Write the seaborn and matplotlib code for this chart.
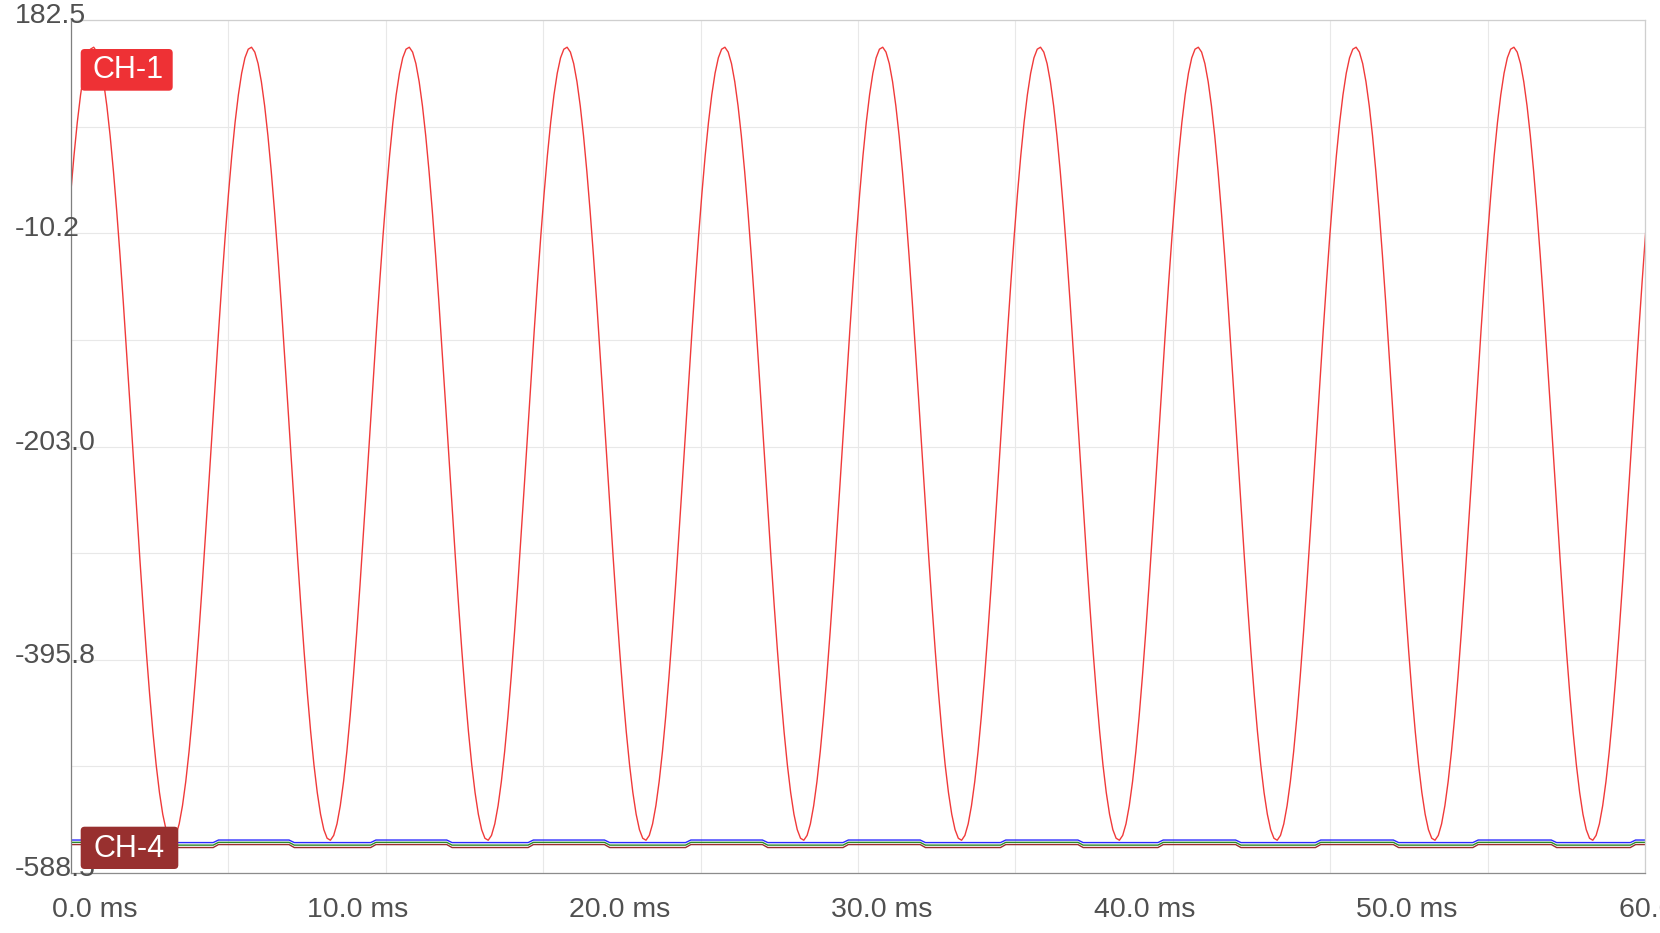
import numpy as np
import pandas as pd
import matplotlib
matplotlib.use("Agg")
import matplotlib.pyplot as plt
import matplotlib.transforms as mtransforms
from matplotlib.patches import FancyBboxPatch
import seaborn as sns

sample_step_ms = 0.12527

# CH-1 samples (one value every sample_step_ms, starting at 0 ms)
ch1_values = [
    25.6, 60.0, 89.9, 114.8, 134.4, 148.3, 156.1, 157.9, 153.5, 143.1, 126.7, 104.8,
    77.7, 45.8, 9.7, -30.0, -72.6, -117.4, -163.6, -210.5, -257.2, -302.9, -346.9, -388.4,
    -426.6, -461.0, -490.9, -515.8, -535.4, -549.3, -557.1, -558.9, -554.5, -544.1, -527.7, -505.8,
    -478.7, -446.8, -410.7, -371.0, -328.4, -283.6, -237.4, -190.5, -143.8, -98.1, -54.1, -12.6,
    25.6, 60.0, 89.9, 114.8, 134.4, 148.3, 156.1, 157.9, 153.5, 143.1, 126.7, 104.8,
    77.7, 45.8, 9.7, -30.0, -72.6, -117.4, -163.6, -210.5, -257.2, -302.9, -346.9, -388.4,
    -426.6, -461.0, -490.9, -515.8, -535.4, -549.3, -557.1, -558.9, -554.5, -544.1, -527.7, -505.8,
    -478.7, -446.8, -410.7, -371.0, -328.4, -283.6, -237.4, -190.5, -143.8, -98.1, -54.1, -12.6,
    25.6, 60.0, 89.9, 114.8, 134.4, 148.3, 156.1, 157.9, 153.5, 143.1, 126.7, 104.8,
    77.7, 45.8, 9.7, -30.0, -72.6, -117.4, -163.6, -210.5, -257.2, -302.9, -346.9, -388.4,
    -426.6, -461.0, -490.9, -515.8, -535.4, -549.3, -557.1, -558.9, -554.5, -544.1, -527.7, -505.8,
    -478.7, -446.8, -410.7, -371.0, -328.4, -283.6, -237.4, -190.5, -143.8, -98.1, -54.1, -12.6,
    25.6, 60.0, 89.9, 114.8, 134.4, 148.3, 156.1, 157.9, 153.5, 143.1, 126.7, 104.8,
    77.7, 45.8, 9.7, -30.0, -72.6, -117.4, -163.6, -210.5, -257.2, -302.9, -346.9, -388.4,
    -426.6, -461.0, -490.9, -515.8, -535.4, -549.3, -557.1, -558.9, -554.5, -544.1, -527.7, -505.8,
    -478.7, -446.8, -410.7, -371.0, -328.4, -283.6, -237.4, -190.5, -143.8, -98.1, -54.1, -12.6,
    25.6, 60.0, 89.9, 114.8, 134.4, 148.3, 156.1, 157.9, 153.5, 143.1, 126.7, 104.8,
    77.7, 45.8, 9.7, -30.0, -72.6, -117.4, -163.6, -210.5, -257.2, -302.9, -346.9, -388.4,
    -426.6, -461.0, -490.9, -515.8, -535.4, -549.3, -557.1, -558.9, -554.5, -544.1, -527.7, -505.8,
    -478.7, -446.8, -410.7, -371.0, -328.4, -283.6, -237.4, -190.5, -143.8, -98.1, -54.1, -12.6,
    25.6, 60.0, 89.9, 114.8, 134.4, 148.3, 156.1, 157.9, 153.5, 143.1, 126.7, 104.8,
    77.7, 45.8, 9.7, -30.0, -72.6, -117.4, -163.6, -210.5, -257.2, -302.9, -346.9, -388.4,
    -426.6, -461.0, -490.9, -515.8, -535.4, -549.3, -557.1, -558.9, -554.5, -544.1, -527.7, -505.8,
    -478.7, -446.8, -410.7, -371.0, -328.4, -283.6, -237.4, -190.5, -143.8, -98.1, -54.1, -12.6,
    25.6, 60.0, 89.9, 114.8, 134.4, 148.3, 156.1, 157.9, 153.5, 143.1, 126.7, 104.8,
    77.7, 45.8, 9.7, -30.0, -72.6, -117.4, -163.6, -210.5, -257.2, -302.9, -346.9, -388.4,
    -426.6, -461.0, -490.9, -515.8, -535.4, -549.3, -557.1, -558.9, -554.5, -544.1, -527.7, -505.8,
    -478.7, -446.8, -410.7, -371.0, -328.4, -283.6, -237.4, -190.5, -143.8, -98.1, -54.1, -12.6,
    25.6, 60.0, 89.9, 114.8, 134.4, 148.3, 156.1, 157.9, 153.5, 143.1, 126.7, 104.8,
    77.7, 45.8, 9.7, -30.0, -72.6, -117.4, -163.6, -210.5, -257.2, -302.9, -346.9, -388.4,
    -426.6, -461.0, -490.9, -515.8, -535.4, -549.3, -557.1, -558.9, -554.5, -544.1, -527.7, -505.8,
    -478.7, -446.8, -410.7, -371.0, -328.4, -283.6, -237.4, -190.5, -143.8, -98.1, -54.1, -12.6,
    25.6, 60.0, 89.9, 114.8, 134.4, 148.3, 156.1, 157.9, 153.5, 143.1, 126.7, 104.8,
    77.7, 45.8, 9.7, -30.0, -72.6, -117.4, -163.6, -210.5, -257.2, -302.9, -346.9, -388.4,
    -426.6, -461.0, -490.9, -515.8, -535.4, -549.3, -557.1, -558.9, -554.5, -544.1, -527.7, -505.8,
    -478.7, -446.8, -410.7, -371.0, -328.4, -283.6, -237.4, -190.5, -143.8, -98.1, -54.1, -12.6,
    25.6, 60.0, 89.9, 114.8, 134.4, 148.3, 156.1, 157.9, 153.5, 143.1, 126.7, 104.8,
    77.7, 45.8, 9.7, -30.0, -72.6, -117.4, -163.6, -210.5, -257.2, -302.9, -346.9, -388.4,
    -426.6, -461.0, -490.9, -515.8, -535.4, -549.3, -557.1, -558.9, -554.5, -544.1, -527.7, -505.8,
    -478.7, -446.8, -410.7, -371.0, -328.4, -283.6, -237.4, -190.5, -143.8, -98.1, -54.1, -12.6,
    25.6,
]

# CH-2..CH-4: small square waves near the bottom
fall_ms = [2.31, 8.32, 14.33, 20.34, 26.36, 32.37, 38.38, 44.39, 50.40, 56.42]
rise_ms = [5.43, 11.43, 17.43, 23.43, 29.43, 35.43, 41.43, 47.43, 53.43, 59.43]
edge_len_ms = 0.2
ch2_levels = (-558.7, -561.0)  # high, low
ch3_levels = (-560.8, -563.3)
ch4_levels = (-562.8, -565.5)

channel_colors = {"CH-1": "#f03a3a", "CH-2": "#2b2bff", "CH-3": "#2a8a2a", "CH-4": "#9a2e2e"}

y_ticks = [182.5, -10.25, -203.0, -395.75, -588.5]
y_labels = ["182.5", "-10.2", "-203.0", "-395.8", "-588.5"]
x_ticks = [0, 10, 20, 30, 40, 50, 60]
x_labels = ["0.0 ms", "10.0 ms", "20.0 ms", "30.0 ms", "40.0 ms", "50.0 ms", "60.0 ms"]


def square_trace(levels):
    high, low = levels
    edges = sorted([(t, low) for t in fall_ms] + [(t, high) for t in rise_ms])
    ts, vs = [0.0], [high]
    cur = high
    for t, new in edges:
        ts += [t, t + edge_len_ms]
        vs += [cur, new]
        cur = new
    ts.append(61.0)
    vs.append(cur)
    return ts, vs


frames = []
t1 = np.arange(len(ch1_values)) * sample_step_ms
frames.append(pd.DataFrame({"t": t1, "v": ch1_values, "channel": "CH-1"}))
for name, lv in [("CH-4", ch4_levels), ("CH-3", ch3_levels), ("CH-2", ch2_levels)]:
    ts, vs = square_trace(lv)
    frames.append(pd.DataFrame({"t": ts, "v": vs, "channel": name}))
df = pd.concat(frames, ignore_index=True)

sns.set_theme(style="white")
plt.rcParams["font.family"] = ["Liberation Sans", "DejaVu Sans"]

W, H = 1660, 933
fig = plt.figure(figsize=(W / 100, H / 100), dpi=100)
ax = fig.add_axes([70.7 / W, 60 / H, (1645.3 - 70.7) / W, 853 / H])

sns.lineplot(data=df, x="t", y="v", hue="channel", palette=channel_colors,
             estimator=None, sort=False, lw=1.0, legend=False, ax=ax)

ax.set_xlim(0, 60)
ax.set_ylim(-588.5, 182.5)
ax.set_xticks(np.linspace(0, 60, 11))
ax.set_yticks(np.linspace(-588.5, 182.5, 9))
ax.set_xticklabels([])
ax.set_yticklabels([])
ax.tick_params(length=0)
ax.set_xlabel("")
ax.set_ylabel("")
ax.grid(True, color="#e8e8e8", lw=0.8)
ax.set_axisbelow(True)
for side, col in [("left", "#7f7f7f"), ("bottom", "#8c8c8c"), ("top", "#cfcfcf"), ("right", "#cfcfcf")]:
    ax.spines[side].set_color(col)
    ax.spines[side].set_linewidth(0.9)

# value labels on the left, sitting just above their grid line
ytrans = mtransforms.blended_transform_factory(fig.transFigure, ax.transData)
ytrans = mtransforms.offset_copy(ytrans, fig=fig, x=0, y=-3, units="dots")
for v, lab in zip(y_ticks, y_labels):
    fig.text(15 / W, v, lab, transform=ytrans, ha="left", va="baseline",
             fontsize=20.5, color="#505050", zorder=2)

# time labels, shifted right of their tick
xtrans = mtransforms.blended_transform_factory(ax.transData, ax.transAxes)
xtrans = mtransforms.offset_copy(xtrans, fig=fig, x=24, y=-43.7, units="dots")
for v, lab in zip(x_ticks, x_labels):
    ax.text(v, 0, lab, transform=xtrans, ha="center", va="baseline",
            fontsize=20.5, color="#505050", clip_on=False)

# channel badges
px = mtransforms.IdentityTransform()
badges = [
    ("CH-1", "#ee3135", 80.7, H - 90.7, 92.0, 41.7, 128, H - 78),
    ("CH-4", "#98302f", 80.7, H - 869.0, 97.6, 42.3, 129, H - 857),
]
for name, col, x0, y0, w, h, tx, ty in badges:
    fig.add_artist(FancyBboxPatch((x0, y0), w, h, boxstyle="round,pad=0,rounding_size=4",
                                  transform=px, fc=col, ec="none", zorder=5))
    fig.text(tx, ty, name, transform=px, ha="center", va="baseline",
             fontsize=22, color="white", zorder=6)

fig.savefig("out.png", dpi=100)
